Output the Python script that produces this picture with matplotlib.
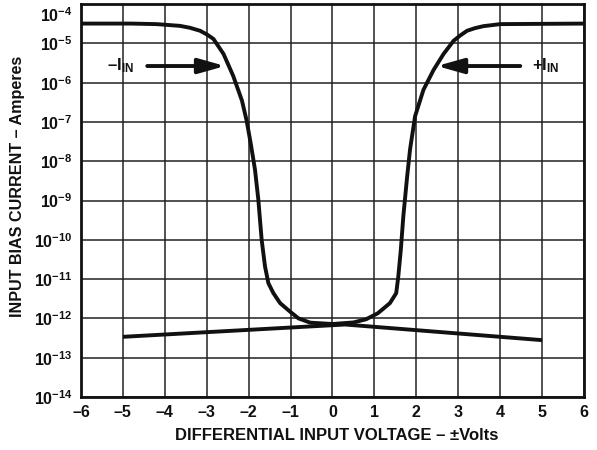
import matplotlib
matplotlib.use('Agg')
import matplotlib.pyplot as plt
import matplotlib.transforms as mtransforms

plt.rcParams['font.family'] = ['Liberation Sans', 'DejaVu Sans']
plt.rcParams['font.weight'] = 'bold'
plt.rcParams['mathtext.fontset'] = 'custom'
plt.rcParams['mathtext.rm'] = 'Liberation Sans:bold'
plt.rcParams['mathtext.bf'] = 'Liberation Sans:bold'
plt.rcParams['mathtext.it'] = 'Liberation Sans:bold'
plt.rcParams['mathtext.sf'] = 'Liberation Sans:bold'
plt.rcParams['mathtext.default'] = 'rm'

# input bias current curve (-I_IN on the left, +I_IN on the right), amperes
bias_v = [-6.0, -4.8, -4.2, -3.64, -3.4, -3.16, -3.0, -2.84, -2.60, -2.37,
          -2.16, -2.05, -1.95, -1.85, -1.77, -1.69, -1.61, -1.53, -1.41, -1.25,
          -1.01, -0.81, -0.53, 0.0, 0.5, 0.80, 1.08, 1.37, 1.52, 1.57, 1.63,
          1.69, 1.78, 1.85, 1.90, 1.97, 2.17, 2.41, 2.65, 2.89, 3.05, 3.21,
          3.40, 3.60, 4.0, 6.0]
bias_i = [3.2e-5, 3.2e-5, 3.1e-5, 2.8e-5, 2.5e-5, 2.1e-5, 1.7e-5, 1.3e-5,
          5.4e-6, 1.5e-6, 3.5e-7, 1.1e-7, 2.8e-8, 6.2e-9, 1.07e-9, 1.0e-10,
          2.1e-11, 7.9e-12, 4.4e-12, 2.45e-12, 1.48e-12, 1.0e-12, 7.8e-13,
          7.2e-13, 7.9e-13, 9.5e-13, 1.35e-12, 2.45e-12, 4.4e-12, 1.17e-11,
          5.6e-11, 4.0e-10, 4.0e-9, 2.0e-8, 4.5e-8, 1.4e-7, 6.6e-7, 2.1e-6,
          5.4e-6, 1.17e-5, 1.6e-5, 2.1e-5, 2.45e-5, 2.75e-5, 3.1e-5, 3.2e-5]

# low-level straight line
line_v = [-5.0, 0.3, 5.0]
line_i = [3.4e-13, 7.0e-13, 2.8e-13]

x_ticks = list(range(-6, 7))
y_exps = list(range(-14, -3))

fig = plt.figure(figsize=(5.97, 4.5), dpi=100)
ax = fig.add_axes([0.1357, 0.1178, 0.8425, 0.873])

ax.plot(bias_v, bias_i, color='#111111', linewidth=2.8, solid_joinstyle='round',
        solid_capstyle='butt', zorder=3)
ax.plot(line_v, line_i, color='#111111', linewidth=2.8, solid_capstyle='butt', zorder=3)

ax.set_yscale('log')
ax.set_xlim(-6, 6)
ax.set_ylim(1e-14, 1e-4)
ax.set_xticks(x_ticks)
ax.set_xticklabels([f'{v}'.replace('-', '\u2013') for v in x_ticks])
ax.set_yticks([10.0 ** e for e in y_exps])
ax.set_yticklabels([r'$10^{%d}$' % e for e in y_exps])
ax.minorticks_off()
ax.tick_params(axis='both', length=0, labelsize=11.5, colors='#111111')
ax.tick_params(axis='x', pad=6)
ax.tick_params(axis='y', pad=6)

# top label sits inside the frame in the original
top_lbl = ax.get_yticklabels()[-1]
top_lbl.set_transform(top_lbl.get_transform() +
                      mtransforms.ScaledTranslation(0, -10 / 100, fig.dpi_scale_trans))

ax.grid(True, color='#222222', linewidth=1.1)
for sp in ax.spines.values():
    sp.set_linewidth(2.0)
    sp.set_color('#111111')

ax.set_xlabel('DIFFERENTIAL INPUT VOLTAGE \u2013 \u00b1Volts', fontsize=12,
              fontweight='bold', color='#111111')
ax.set_ylabel('INPUT BIAS CURRENT \u2013 Amperes', fontsize=11.6,
              fontweight='bold', color='#111111')
ax.xaxis.set_label_coords(0.509, -0.078)
ax.yaxis.set_label_coords(-0.111, 0.536)

# curve labels with arrows
arrow_kw = dict(arrowstyle='-|>,head_length=1.6,head_width=0.45', color='#111111',
                lw=2.8, shrinkA=0, shrinkB=0)
ax.annotate('', xy=(-2.56, 2.66e-6), xytext=(-4.42, 2.66e-6), arrowprops=arrow_kw)
ax.annotate('', xy=(2.49, 2.66e-6), xytext=(4.48, 2.66e-6), arrowprops=arrow_kw)
ax.text(-5.38, 2.66e-6, '\u2013' + r'$\mathregular{I_{IN}}$', fontsize=12,
        ha='left', va='center', color='#111111')
ax.text(4.76, 2.66e-6, r'$+\mathregular{I_{IN}}$', fontsize=12, ha='left',
        va='center', color='#111111')

fig.savefig('out.png', dpi=100)
